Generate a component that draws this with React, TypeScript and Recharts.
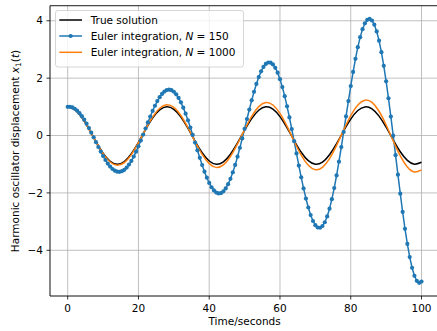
import React from 'react';
import { LineChart, Line, XAxis, YAxis, CartesianGrid, Legend } from 'recharts';

const T_END = 100;
const N_COARSE = 150;

const SAMPLE_T = [0, 2, 4, 6, 8, 10, 12, 14, 16, 18, 20, 22, 24, 26, 28, 30, 32, 34, 36, 38, 40, 42, 44, 46, 48, 50, 52, 54, 56, 58, 60, 62, 64, 66, 68, 70, 72, 74, 76, 78, 80, 82, 84, 86, 88, 90, 92, 94, 96, 98, 100];

const TRUE_X = [1.000, 0.902, 0.626, 0.227, -0.216, -0.617, -0.897, -1.000, -0.906, -0.635, -0.238, 0.205, 0.609, 0.892, 1.000, 0.911, 0.643, 0.249, -0.195, -0.600, -0.887, -0.999, -0.916, -0.652, -0.259, 0.184, 0.591, 0.882, 0.999, 0.920, 0.660, 0.270, -0.173, -0.582, -0.876, -0.998, -0.924, -0.668, -0.281, 0.162, 0.573, 0.871, 0.998, 0.928, 0.676, 0.291, -0.151, -0.564, -0.865, -0.997, -0.933];

const EULER1000_X = [1.000, 0.906, 0.632, 0.231, -0.220, -0.633, -0.924, -1.036, -0.944, -0.664, -0.251, 0.216, 0.645, 0.951, 1.072, 0.982, 0.698, 0.272, -0.211, -0.658, -0.979, -1.110, -1.023, -0.732, -0.294, 0.206, 0.671, 1.008, 1.149, 1.064, 0.769, 0.318, -0.200, -0.684, -1.037, -1.189, -1.108, -0.807, -0.343, 0.193, 0.697, 1.067, 1.231, 1.153, 0.846, 0.369, -0.186, -0.709, -1.098, -1.273, -1.199];

const EULER150_X = [
  1.000, 1.000, 0.978, 0.933, 0.867, 0.780, 0.674, 0.551, 0.412, 0.261,
  0.101, -0.064, -0.232, -0.399, -0.560, -0.713, -0.853, -0.977, -1.082, -1.166,
  -1.225, -1.259, -1.265, -1.244, -1.194, -1.117, -1.013, -0.884, -0.733, -0.562,
  -0.375, -0.175, 0.033, 0.245, 0.456, 0.661, 0.857, 1.038, 1.200, 1.338,
  1.450, 1.533, 1.583, 1.599, 1.580, 1.525, 1.435, 1.312, 1.156, 0.972,
  0.761, 0.529, 0.280, 0.020, -0.247, -0.515, -0.776, -1.027, -1.260, -1.470,
  -1.653, -1.802, -1.915, -1.988, -2.018, -2.004, -1.946, -1.842, -1.696, -1.509,
  -1.283, -1.025, -0.738, -0.428, -0.101, 0.235, 0.573, 0.906, 1.226, 1.526,
  1.799, 2.037, 2.236, 2.390, 2.494, 2.545, 2.540, 2.479, 2.361, 2.189,
  1.964, 1.690, 1.372, 1.017, 0.632, 0.224, -0.198, -0.625, -1.048, -1.457,
  -1.842, -2.196, -2.508, -2.771, -2.979, -3.125, -3.205, -3.215, -3.154, -3.022,
  -2.820, -2.550, -2.218, -1.829, -1.391, -0.913, -0.403, 0.127, 0.666, 1.202,
  1.723, 2.218, 2.674, 3.081, 3.429, 3.708, 3.911, 4.031, 4.065, 4.009,
  3.863, 3.627, 3.306, 2.904, 2.429, 1.889, 1.295, 0.659, -0.005, -0.685,
  -1.364, -2.027, -2.661, -3.250, -3.779, -4.236, -4.609, -4.889, -5.065, -5.133,
  -5.089,
];

const X_TICKS = [0, 20, 40, 60, 80, 100];
const Y_TICKS = [-4, -2, 0, 2, 4];
const X_DOMAIN = [-5, 105];
const Y_DOMAIN = [-5.593, 4.525];

const trueData = SAMPLE_T.map((t, i) => ({ t, x: TRUE_X[i] }));
const euler1000Data = SAMPLE_T.map((t, i) => ({ t, x: EULER1000_X[i] }));
const euler150Data = EULER150_X.map((x, i) => ({ t: (i * T_END) / N_COARSE, x }));

const FONT = "'DejaVu Sans', sans-serif";
const FS = 10.5;
const BLUE = '#1f77b4';
const ORANGE = '#ff7f0e';

const fmtY = (v: number) => String(v).replace('-', '\u2212');

const XLabel = () => (
  <text x={244.6} y={325} textAnchor="middle" fontFamily={FONT} fontSize={FS} fill="#000">
    Time/seconds
  </text>
);

const YLabel = () => (
  <text
    x={18.5}
    y={151}
    textAnchor="middle"
    transform="rotate(-90, 18.5, 151)"
    fontFamily={FONT}
    fontSize={FS}
    fill="#000"
  >
    Harmonic oscillator displacement{' '}
    <tspan fontStyle="italic">x</tspan>
    <tspan fontSize={7.5} dy={2}>1</tspan>
    <tspan dy={-2}>(</tspan>
    <tspan fontStyle="italic">t</tspan>
    <tspan>)</tspan>
  </text>
);

const LegendBox = () => {
  const rows = [10, 26, 42.3];
  return (
    <svg width={190} height={58} style={{ display: 'block' }}>
      <rect x={0.5} y={0.5} width={188} height={56.5} rx={2.5} fill="rgba(255,255,255,0.8)" stroke="#cccccc" strokeWidth={0.8} />
      <line x1={4.3} x2={27} y1={rows[0]} y2={rows[0]} stroke="#000" strokeWidth={1.5} />
      <text x={35.7} y={rows[0] + 3.8} fontFamily={FONT} fontSize={FS} fill="#000">True solution</text>
      <line x1={4.3} x2={27} y1={rows[1]} y2={rows[1]} stroke={BLUE} strokeWidth={1.5} />
      <circle cx={15.65} cy={rows[1]} r={2.1} fill={BLUE} />
      <text x={35.7} y={rows[1] + 3.8} fontFamily={FONT} fontSize={FS} fill="#000">
        Euler integration, <tspan fontStyle="italic">N</tspan> = 150
      </text>
      <line x1={4.3} x2={27} y1={rows[2]} y2={rows[2]} stroke={ORANGE} strokeWidth={1.5} />
      <text x={35.7} y={rows[2] + 3.8} fontFamily={FONT} fontSize={FS} fill="#000">
        Euler integration, <tspan fontStyle="italic">N</tspan> = 1000
      </text>
    </svg>
  );
};

export default function App() {
  return (
    <div style={{ position: 'absolute', left: 0, top: 0, width: 437, height: 331, overflow: 'hidden', background: '#fff' }}>
      <LineChart width={445} height={331} margin={{ top: 0, right: 5.8, bottom: 0, left: 0 }}>
        <CartesianGrid stroke="#b0b0b0" strokeWidth={0.8} />
        <XAxis
          type="number"
          dataKey="t"
          domain={X_DOMAIN}
          ticks={X_TICKS}
          interval={0}
          allowDataOverflow
          height={35}
          tickSize={3.5}
          tickMargin={5}
          axisLine={{ stroke: '#000', strokeWidth: 0.8 }}
          tickLine={{ stroke: '#000', strokeWidth: 0.8 }}
          tick={{ fill: '#000', fontSize: FS, fontFamily: FONT }}
          label={{ content: XLabel }}
        />
        <XAxis
          xAxisId="top"
          orientation="top"
          type="number"
          domain={X_DOMAIN}
          allowDataOverflow
          height={5.7}
          tick={false}
          tickLine={false}
          axisLine={{ stroke: '#000', strokeWidth: 0.8 }}
        />
        <YAxis
          type="number"
          domain={Y_DOMAIN}
          ticks={Y_TICKS}
          interval={0}
          allowDataOverflow
          width={50}
          tickSize={3.5}
          tickMargin={3.5}
          tickFormatter={fmtY}
          axisLine={{ stroke: '#000', strokeWidth: 0.8 }}
          tickLine={{ stroke: '#000', strokeWidth: 0.8 }}
          tick={{ fill: '#000', fontSize: FS, fontFamily: FONT }}
          label={{ content: YLabel }}
        />
        <Legend
          layout="vertical"
          align="center"
          verticalAlign="middle"
          content={LegendBox}
          wrapperStyle={{ left: 55, top: 10, width: 190, height: 58 }}
        />
        <Line
          data={trueData}
          dataKey="x"
          name="True solution"
          type="natural"
          stroke="#000"
          strokeWidth={1.5}
          dot={false}
          isAnimationActive={false}
        />
        <Line
          data={euler150Data}
          dataKey="x"
          name="Euler integration, N = 150"
          type="linear"
          stroke={BLUE}
          strokeWidth={1.5}
          dot={{ r: 2.1, fill: BLUE, stroke: 'none' }}
          isAnimationActive={false}
        />
        <Line
          data={euler1000Data}
          dataKey="x"
          name="Euler integration, N = 1000"
          type="natural"
          stroke={ORANGE}
          strokeWidth={1.5}
          dot={false}
          isAnimationActive={false}
        />
      </LineChart>
    </div>
  );
}
